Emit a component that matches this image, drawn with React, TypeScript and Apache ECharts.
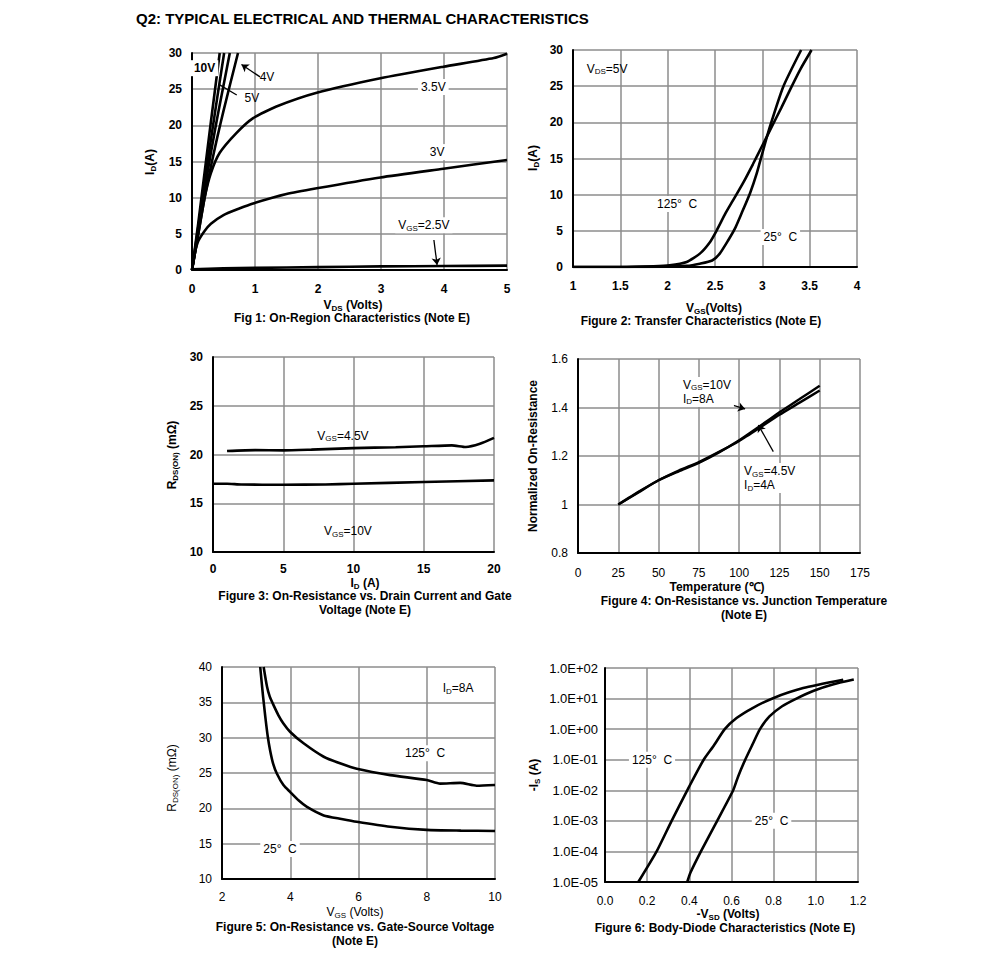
import React, { useEffect, useRef } from "react";
import * as echarts from "echarts";

const FONT = 'Arial, "Liberation Sans", sans-serif';

// ---------- Fig 1: On-region characteristics (x: VDS, y: ID) ----------
const f1_10V = [[0, 0], [0.1, 6.5], [0.2, 13.5], [0.3, 20.5], [0.44, 30]];
const f1_5V = [[0, 0], [0.1, 6], [0.2, 12], [0.3, 18], [0.4, 23.8], [0.51, 30]];
const f1_45V = [[0, 0], [0.1, 5.5], [0.2, 11], [0.3, 16.2], [0.4, 21], [0.5, 25.5], [0.6, 30]];
const f1_4V = [[0, 0], [0.1, 5], [0.2, 10], [0.3, 14.3], [0.4, 18.3], [0.5, 22], [0.6, 25.5], [0.73, 30]];
const f1_35V = [[0, 0], [0.1, 5], [0.2, 10], [0.3, 13.4], [0.44, 16.2], [0.7, 18.9], [0.97, 21], [1.34, 22.6], [1.98, 24.5], [2.99, 26.5], [3.99, 28.1], [4.79, 29.3], [5, 29.9]];
const f1_3V = [[0, 0], [0.05, 2.5], [0.1, 4], [0.2, 5.4], [0.3, 6.4], [0.5, 7.6], [0.75, 8.5], [0.97, 9.2], [1.5, 10.5], [1.98, 11.3], [2.99, 12.8], [3.99, 14.0], [5, 15.2]];
const f1_25V = [[0, 0.1], [0.5, 0.25], [1, 0.3], [2, 0.4], [3, 0.5], [4, 0.55], [5, 0.6]];

// ---------- Fig 2: Transfer characteristics (x: VGS, y: ID) ----------
const f2_125C = [[1, 0], [1.5, 0], [1.85, 0.1], [2.02, 0.23], [2.2, 0.7], [2.34, 1.85], [2.45, 3.5], [2.52, 5.1], [2.61, 7.4], [2.69, 9.2], [2.8, 11.7], [2.9, 14.2], [3.0, 16.8], [3.1, 19.4], [3.2, 22], [3.3, 24.7], [3.4, 27.3], [3.52, 30]];
const f2_25C = [[1, 0], [1.5, 0], [2, 0.05], [2.2, 0.15], [2.34, 0.46], [2.47, 0.9], [2.55, 1.85], [2.64, 3.7], [2.71, 5.3], [2.78, 7.4], [2.87, 10.2], [2.94, 12.9], [3.01, 16.2], [3.08, 19.4], [3.22, 24.9], [3.41, 30]];

// ---------- Fig 3: RDS(ON) vs ID ----------
const f3_45V = [[1, 20.36], [3, 20.45], [5, 20.42], [7, 20.5], [10, 20.65], [13, 20.75], [15, 20.84], [17, 20.94], [18, 20.77], [19, 21.1], [20, 21.7]];
const f3_10V = [[0, 17.0], [1, 17.0], [2, 16.92], [5, 16.9], [8, 16.92], [10, 17.0], [15, 17.18], [20, 17.35]];

// ---------- Fig 4: Normalized RDS(ON) vs temperature ----------
const f4_10V = [[25, 1.0], [37.5, 1.05], [50, 1.1], [62.5, 1.137], [75, 1.172], [87.5, 1.215], [100, 1.265], [112.5, 1.322], [125, 1.38], [137.5, 1.435], [150, 1.49]];
const f4_45V = [[25, 1.0], [37.5, 1.052], [50, 1.1], [62.5, 1.14], [75, 1.175], [87.5, 1.217], [100, 1.262], [112.5, 1.315], [125, 1.37], [137.5, 1.42], [150, 1.47]];

// ---------- Fig 5: RDS(ON) vs VGS ----------
const f5_25C = [[3.12, 40], [3.2, 36], [3.27, 32.9], [3.34, 30.2], [3.41, 28.2], [3.5, 26.3], [3.61, 24.9], [3.8, 23.3], [4, 22.3], [4.25, 21.1], [4.49, 20.2], [4.98, 19], [5.5, 18.5], [5.95, 18.1], [6.93, 17.4], [8, 16.95], [9, 16.85], [10, 16.8]];
const f5_125C = [[3.22, 40], [3.32, 37.2], [3.4, 35.8], [3.51, 34.6], [3.65, 33.2], [3.8, 32], [4, 30.8], [4.39, 29.2], [4.98, 27.3], [5.5, 26.3], [5.95, 25.6], [6.93, 24.7], [8, 24], [8.39, 23.5], [8.98, 23.6], [9.46, 23.2], [10, 23.3]];

// ---------- Fig 6: Body diode (x: -VSD, y: -IS, log) ----------
const f6_125C = [[0.158, 1e-5], [0.245, 1e-4], [0.316, 1e-3], [0.39, 1e-2], [0.468, 1e-1], [0.513, 2.7e-1], [0.568, 1], [0.624, 2.3], [0.7, 4.9], [0.8, 10.5], [0.94, 22], [1.13, 41]];
const f6_25C = [[0.39, 1e-5], [0.405, 2e-5], [0.455, 1e-4], [0.532, 1e-3], [0.608, 1e-2], [0.632, 2.9e-2], [0.665, 1e-1], [0.7, 3.2e-1], [0.735, 1], [0.78, 2.6], [0.84, 5.6], [0.908, 10], [0.99, 18], [1.08, 29], [1.18, 42]];

// ---------- Annotations (data coordinates) ----------
type Note = { fig: number; text: string; at: number[]; bold?: boolean; bg?: boolean; align?: string };
const notes: Note[] = [
  { fig: 0, text: "10V", at: [0.2, 27.9], bold: true, bg: true },
  { fig: 0, text: "4V", at: [1.19, 26.7] },
  { fig: 0, text: "5V", at: [0.95, 23.8] },
  { fig: 0, text: "3.5V", at: [3.83, 25.3], bg: true },
  { fig: 0, text: "3V", at: [3.89, 16.3], bg: true },
  { fig: 0, text: "V_{GS}=2.5V", at: [3.68, 6.2], bg: true },
  { fig: 1, text: "V_{DS}=5V", at: [1.36, 27.4] },
  { fig: 1, text: "125°  C", at: [2.1, 8.7], bg: true },
  { fig: 1, text: "25°  C", at: [3.19, 4.15], bg: true },
  { fig: 2, text: "V_{GS}=4.5V", at: [9.25, 21.9] },
  { fig: 2, text: "V_{GS}=10V", at: [9.6, 12.15] },
  { fig: 3, text: "V_{GS}=10V\nI_{D}=8A", at: [63.3, 1.464], bg: true, align: "left" },
  { fig: 3, text: "V_{GS}=4.5V\nI_{D}=4A", at: [101.2, 1.109], bg: true, align: "left" },
  { fig: 4, text: "I_{D}=8A", at: [8.92, 37.0], bg: true },
  { fig: 4, text: "125°  C", at: [7.95, 27.8], bg: true },
  { fig: 4, text: "25°  C", at: [3.7, 14.25], bg: true },
  { fig: 5, text: "125°  C", at: [0.223, 0.1], bg: true },
  { fig: 5, text: "25°  C", at: [0.79, 1e-3], bg: true },
];

// arrows / leader lines: [from, to]
const f1_arrow4V = [[1.08, 26.7], [0.785, 28.4]];
const f1_line5V = [[0.44, 25.6], [0.71, 24.2]];
const f1_arrow25V = [[3.84, 4.15], [3.89, 0.7]];
const f4_arrow10V = [[85, 1.431], [103.7, 1.394]];
const f4_arrow45V = [[121.2, 1.218], [111.9, 1.328]];

const TITLE = "Q2: TYPICAL ELECTRICAL AND THERMAL CHARACTERISTICS";

// ---------- helpers ----------
function rt(s: string): string {
  return s
    .split("\n")
    .map((line) => {
      let out = "";
      const re = /_\{([^}]*)\}/g;
      let last = 0;
      let m: RegExpExecArray | null;
      while ((m = re.exec(line))) {
        if (m.index > last) out += `{n|${line.slice(last, m.index)}}`;
        out += `{s|${m[1]}}`;
        last = m.index + m[0].length;
      }
      if (last < line.length) out += `{n|${line.slice(last)}}`;
      return out;
    })
    .join("\n");
}

function textEl(x: number, y: number, text: string, o: any = {}) {
  const size = o.size ?? 12;
  const weight = o.bold ? "bold" : "normal";
  const align = o.align ?? "center";
  return {
    type: "text",
    x,
    y,
    z: 100,
    rotation: o.rotation ?? 0,
    silent: true,
    style: {
      text: rt(text),
      align,
      verticalAlign: "middle",
      textAlign: align,
      textVerticalAlign: "middle",
      fill: "#000",
      backgroundColor: o.bg ? "#fff" : undefined,
      padding: o.bg ? [1, 3, 1, 3] : 0,
      rich: {
        n: { fontSize: size, fontWeight: weight, fontFamily: FONT, fill: "#000", lineHeight: size + 2, verticalAlign: "middle" },
        s: { fontSize: Math.round(size * 0.7), fontWeight: weight, fontFamily: FONT, fill: "#000", verticalAlign: "bottom", lineHeight: size + 2, padding: [4, 0, 0, 0] },
      },
    },
  };
}

const numFmt = (v: number) => String(Math.round(v * 100) / 100);
const fix1 = (v: number) => v.toFixed(1);
const expFmt = (v: number) => {
  const e = Math.round(Math.log10(v));
  return "1.0E" + (e < 0 ? "-" : "+") + String(Math.abs(e)).padStart(2, "0");
};

function axis(gridIndex: number, min: number, max: number, interval: number | undefined, bold: boolean, margin: number, fmt: any, type = "value", size = 12) {
  const a: any = {
    type,
    gridIndex,
    min,
    max,
    axisLine: { show: true, onZero: false, lineStyle: { color: "#000", width: 2 } },
    axisTick: { show: false },
    splitLine: { show: true, lineStyle: { color: "#8c8c8c", width: 1.5 } },
    axisLabel: {
      color: "#000",
      fontSize: size,
      fontFamily: FONT,
      fontWeight: bold ? "bold" : "normal",
      margin,
      formatter: fmt,
      showMinLabel: true,
      showMaxLabel: true,
    },
    z: 5,
  };
  if (type === "log") a.logBase = 10;
  else a.interval = interval;
  return a;
}

function line(idx: number, data: number[][], extra: any = {}) {
  return {
    type: "line",
    xAxisIndex: idx,
    yAxisIndex: idx,
    data,
    showSymbol: false,
    symbol: "none",
    smooth: 0.2,
    lineStyle: { color: "#000", width: 2.6 },
    z: 10,
    ...extra,
  };
}

function arrowMark(pairs: number[][][], arrow: boolean[]) {
  return {
    silent: true,
    animation: false,
    label: { show: false },
    lineStyle: { color: "#000", width: 1.3, type: "solid" },
    emphasis: { disabled: true },
    data: pairs.map((p, i) => [
      { coord: p[0], symbol: "none" },
      { coord: p[1], symbol: arrow[i] ? "arrow" : "none", symbolSize: 7 },
    ]),
  };
}

const grids = [
  { left: 192, top: 53, width: 315, height: 217 },
  { left: 573, top: 50, width: 284, height: 217 },
  { left: 213, top: 357, width: 281, height: 195 },
  { left: 578, top: 359, width: 282, height: 194 },
  { left: 222, top: 667, width: 273, height: 212 },
  { left: 605, top: 668, width: 253, height: 214 },
];

function buildOption() {
  return {
    animation: false,
    backgroundColor: "#fff",
    grid: grids,
    xAxis: [
      axis(0, 0, 5, 1, true, 13, numFmt),
      axis(1, 1, 4, 0.5, true, 13, numFmt),
      axis(2, 0, 20, 5, true, 11, numFmt),
      axis(3, 0, 175, 25, false, 14, numFmt),
      axis(4, 2, 10, 2, false, 12, numFmt),
      axis(5, 0, 1.2, 0.2, false, 13, fix1, "value", 12),
    ],
    yAxis: [
      axis(0, 0, 30, 5, true, 10, numFmt),
      axis(1, 0, 30, 5, true, 10, numFmt),
      axis(2, 10, 30, 5, true, 10, numFmt),
      axis(3, 0.8, 1.6, 0.2, false, 10, numFmt),
      axis(4, 10, 40, 5, false, 10, numFmt),
      axis(5, 1e-5, 1e2, undefined, false, 7, expFmt, "log", 13),
    ],
    series: [
      line(0, f1_10V, { smooth: false }),
      line(0, f1_5V, { smooth: false }),
      line(0, f1_45V),
      line(0, f1_4V, { markLine: arrowMark([f1_arrow4V, f1_line5V, f1_arrow25V], [true, false, true]) }),
      line(0, f1_35V),
      line(0, f1_3V),
      line(0, f1_25V),
      line(1, f2_125C),
      line(1, f2_25C),
      line(2, f3_45V),
      line(2, f3_10V),
      line(3, f4_10V, { lineStyle: { color: "#000", width: 2.4 } }),
      line(3, f4_45V, { lineStyle: { color: "#000", width: 2.4 }, markLine: arrowMark([f4_arrow10V, f4_arrow45V], [true, true]) }),
      line(4, f5_25C),
      line(4, f5_125C),
      line(5, f6_125C),
      line(5, f6_25C),
    ],
  };
}

function staticTexts() {
  const R = Math.PI / 2;
  return [
    { type: "text", x: 136, y: 18, z: 100, silent: true, style: { text: TITLE, fill: "#000", font: `bold 15px ${FONT}`, align: "left", verticalAlign: "middle", textAlign: "left", textVerticalAlign: "middle" } },
    // Fig 1
    textEl(353, 305, "V_{DS} (Volts)", { bold: true }),
    textEl(352, 318, "Fig 1: On-Region Characteristics (Note E)", { bold: true }),
    textEl(150, 162, "I_{D}(A)", { bold: true, rotation: R }),
    // Fig 2
    textEl(714, 308, "V_{GS}(Volts)", { bold: true }),
    textEl(701, 321, "Figure 2: Transfer Characteristics (Note E)", { bold: true }),
    textEl(533, 158, "I_{D}(A)", { bold: true, rotation: R }),
    // Fig 3
    textEl(365, 583, "I_{D} (A)", { bold: true }),
    textEl(365, 596, "Figure 3: On-Resistance vs. Drain Current and Gate", { bold: true }),
    textEl(365, 610, "Voltage (Note E)", { bold: true }),
    textEl(172, 455, "R_{DS(ON)} (mΩ)", { bold: true, rotation: R }),
    // Fig 4
    textEl(717, 587, "Temperature (℃)", { bold: true }),
    textEl(744, 601, "Figure 4: On-Resistance vs. Junction Temperature", { bold: true }),
    textEl(744, 615, "(Note E)", { bold: true }),
    textEl(533, 456, "Normalized On-Resistance", { bold: true, rotation: R }),
    // Fig 5
    textEl(355, 912, "V_{GS} (Volts)", { bold: false }),
    textEl(355, 927, "Figure 5: On-Resistance vs. Gate-Source Voltage", { bold: true }),
    textEl(355, 941, "(Note E)", { bold: true }),
    textEl(172, 778, "R_{DS(ON)} (mΩ)", { bold: false, rotation: R }),
    // Fig 6
    textEl(728, 914, "-V_{SD} (Volts)", { bold: true }),
    textEl(725, 928, "Figure 6: Body-Diode Characteristics (Note E)", { bold: true }),
    textEl(534, 775, "-I_{S} (A)", { bold: true, rotation: R }),
  ];
}

export default function App() {
  const ref = useRef<HTMLDivElement>(null);
  useEffect(() => {
    const chart = echarts.init(ref.current!, null, { renderer: "svg" });
    chart.setOption(buildOption() as any);
    const noteEls = notes.map((n) => {
      const p = chart.convertToPixel({ gridIndex: n.fig } as any, n.at) as number[];
      return textEl(p[0], p[1], n.text, { bold: n.bold, bg: n.bg, align: n.align });
    });
    chart.setOption({ graphic: { elements: [...staticTexts(), ...noteEls] } } as any);
    return () => chart.dispose();
  }, []);
  return (
    <div
      ref={ref}
      style={{ position: "absolute", left: 0, top: 0, width: 991, height: 961, background: "#fff" }}
    />
  );
}
